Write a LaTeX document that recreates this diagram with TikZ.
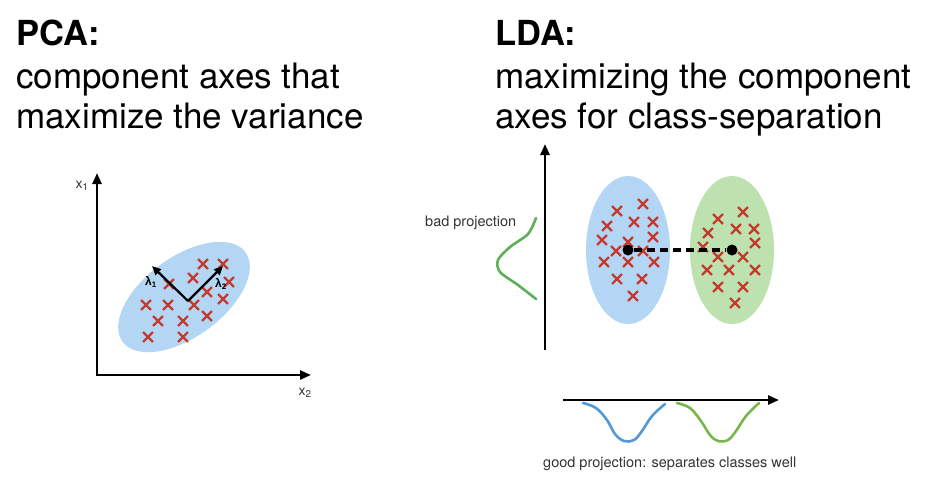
\documentclass[tikz,border=0pt]{standalone}
\usepackage{fontspec}
\setmainfont{TeX Gyre Heros}
\newfontfamily\greekfont{Liberation Sans}
\usepackage{xcolor}
\usepackage{tikz}
\usetikzlibrary{arrows.meta,shapes.misc}
\definecolor{clsblue}{HTML}{B4D6F5}
\definecolor{clsgreen}{HTML}{BDE2AF}
\definecolor{crossred}{HTML}{C53A2E}
\definecolor{projgreen}{HTML}{5FAF5A}
\definecolor{projblue}{HTML}{5398D8}
\definecolor{projlime}{HTML}{79B54A}
\definecolor{txtgrey}{HTML}{333333}

\begin{document}
\begin{tikzpicture}[
    x=1pt, y=-1pt,
    every node/.style={inner sep=0pt},
    head/.style={anchor=base west, font=\fontsize{34.5}{40}\selectfont\bfseries},
    sub/.style={anchor=base west, font=\fontsize{35}{40}\selectfont},
    axis/.style={line width=2.6pt, -{Triangle[length=11pt, width=9pt]}},
    axes2/.style={line width=2.6pt, {Triangle[length=11pt, width=9pt]}-{Triangle[length=11pt, width=9pt]}},
    eigen/.style={line width=2.2pt, -{Triangle[length=9pt, width=8pt]}},
    xmark/.style={cross out, draw=crossred, line width=2.4pt, minimum size=7.5pt},
    mean/.style={circle, fill=black, minimum size=11pt},
    note/.style={anchor=base west, font=\fontsize{14.5}{17}\selectfont, text=txtgrey},
    axlab/.style={font=\fontsize{14}{16}\selectfont, text=txtgrey},
    eiglab/.style={font=\greekfont\fontsize{12}{14}\selectfont\bfseries},
    curve/.style={line width=2.6pt, line cap=round, line join=round}
  ]
  \useasboundingbox (0,0) rectangle (931,498);

  % ---------- titres ----------------------------------------------------------
  \node[head] (pcahead) at (16,45)  {PCA:};
  \node[sub]  (pcasub1) at (16,88)  {component axes that};
  \node[sub]  (pcasub2) at (16,128) {maximize the variance};
  \node[head] (ldahead) at (495,45)  {LDA:};
  \node[sub]  (ldasub1) at (495,88)  {maximizing the component};
  \node[sub]  (ldasub2) at (495,128) {axes for class-separation};

  % ---------- PCA : axes, nuage, vecteurs propres -----------------------------
  \coordinate (pcaorig) at (97,375);
  \coordinate (pcaytip) at (97,173);
  \coordinate (pcaxtip) at (311,375);
  \fill[clsblue, rotate around={36:(184,297)}] (184,297) ellipse [x radius=76, y radius=40];
  \draw[axes2, line join=miter] (pcaytip) -- (pcaorig) -- (pcaxtip);
  \node[axlab] (x1lab) at (82,186) {x\textsubscript{1}};
  \node[axlab] (x2lab) at (305,393) {x\textsubscript{2}};

  \foreach \px/\py [count=\i] in {203/264, 223/264, 193/278, 169/284, 229/282,
      207/292, 223/299, 146/305, 168/305, 194/305, 207/316, 158/321, 183/321,
      148/337, 183/337}
    \node[xmark] (pcapt\i) at (\px,\py) {};

  \coordinate (pcactr) at (188,301);
  \coordinate (lam1tip) at (152,266);
  \coordinate (lam2tip) at (223,266);
  \draw[eigen] (pcactr) -- (lam1tip);
  \draw[eigen] (pcactr) -- (lam2tip);
  \node[eiglab] (lam1) at (151,282) {λ\textsubscript{1}};
  \node[eiglab] (lam2) at (221,284) {λ\textsubscript{2}};

  % ---------- LDA : deux classes ------------------------------------------------
  \coordinate (ldaybot) at (545,350);
  \coordinate (ldaytip) at (545,144);
  \draw[axis] (ldaybot) -- (ldaytip);
  \fill[clsblue]  (628,250) ellipse [x radius=42, y radius=74];
  \fill[clsgreen] (732,250) ellipse [x radius=42, y radius=74];

  \foreach \px/\py [count=\i] in {643/204, 617/211, 634/222, 653/222, 607/226,
      653/237, 602/240, 628/242, 616/251, 643/251, 604/262, 628/262, 654/262,
      617/279, 642/279, 633/296}
    \node[xmark] (bluept\i) at (\px,\py) {};
  \foreach \px/\py [count=\i] in {743/212, 718/219, 736/229, 754/229, 708/233,
      755/243, 703/247, 718/257, 743/257, 707/270, 729/270, 755/270, 718/287,
      743/287, 735/303}
    \node[xmark] (greenpt\i) at (\px,\py) {};

  \node[mean] (mublue)  at (628,250) {};
  \node[mean] (mugreen) at (732,250) {};
  \draw[line width=3.2pt, dash pattern=on 8pt off 5pt] (mublue) -- (mugreen);

  % ---------- projections -----------------------------------------------------
  \node[note] (badlab) at (425,226) {bad projection};
  \draw[curve, projgreen] plot[smooth, tension=0.5] coordinates
    {(536,218) (528,234) (510,247) (498,260) (500,272) (518,285) (536,299)};

  \coordinate (ldaxleft) at (563,400);
  \coordinate (ldaxtip)  at (779,400);
  \draw[axis] (ldaxleft) -- (ldaxtip);
  \draw[curve, projblue] plot[smooth, tension=0.6] coordinates
    {(583,403) (596,408) (607,420) (615,434) (624,441) (634,440) (642,431) (652,416) (665,404)};
  \draw[curve, projlime] plot[smooth, tension=0.6] coordinates
    {(677,403) (690,408) (701,421) (710,435) (718,441) (728,440) (736,431) (746,416) (759,403)};
  \node[note] (goodlab) at (543,467) {good projection: separates classes well};

\end{tikzpicture}
\end{document}
